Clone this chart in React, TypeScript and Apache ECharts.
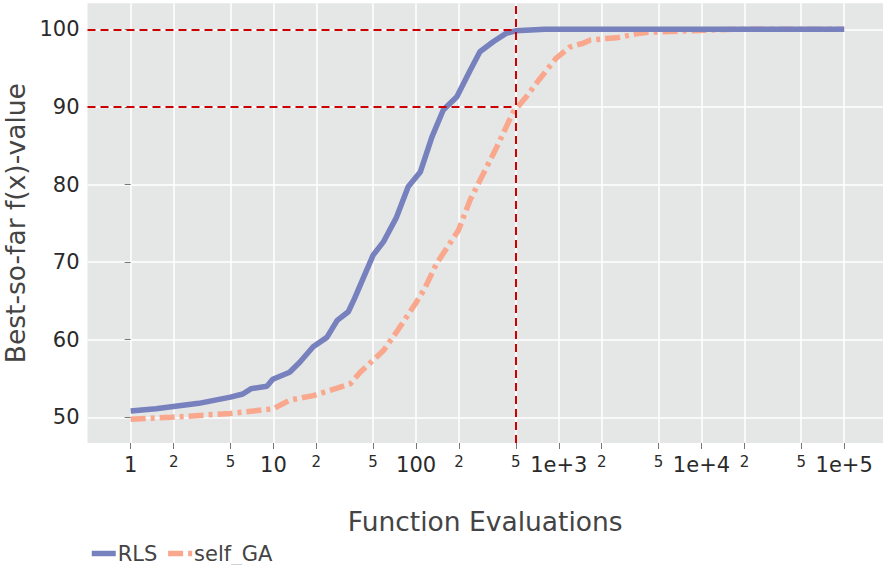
import React, { useEffect, useRef } from "react";
import * as echarts from "echarts";

const rlsEvals = [1, 1.5, 3, 5, 6.1, 7, 9, 9.9, 13, 15.3, 19, 23.7, 28, 33.5, 37, 50, 59, 73, 88, 107, 129, 155, 193, 239, 280, 347, 430, 500, 800, 100000];
const rlsValues = [50.8, 51.1, 51.8, 52.6, 53.0, 53.7, 54.0, 54.9, 55.8, 57.1, 59.1, 60.3, 62.5, 63.6, 65.3, 70.9, 72.6, 75.8, 79.7, 81.6, 86.1, 89.6, 91.3, 94.7, 97.1, 98.4, 99.5, 99.8, 100, 100];

const gaEvals = [1, 1.9, 5, 10, 13, 19, 34.5, 40.6, 59, 73, 101, 115, 139, 198, 239, 296, 367, 478, 592, 735, 960, 1190, 1480, 1650, 2150, 2540, 3700, 4100, 7800, 16600, 100000];
const gaValues = [49.75, 50.0, 50.5, 51.1, 52.2, 52.8, 54.3, 55.8, 58.6, 61.0, 64.9, 66.6, 69.8, 74.1, 78.0, 81.4, 84.8, 89.3, 91.3, 93.6, 96.3, 97.7, 98.2, 98.6, 98.8, 98.9, 99.5, 99.6, 99.8, 100, 100];

const xTickValues = [1, 2, 5, 10, 20, 50, 100, 200, 500, 1000, 2000, 5000, 10000, 20000, 50000, 100000];
const xTickLabels = ["1", "2", "5", "10", "2", "5", "100", "2", "5", "1e+3", "2", "5", "1e+4", "2", "5", "1e+5"];
const yTickValues = [50, 60, 70, 80, 90, 100];

const targetEvals = 500;
const targetValues = [100, 90];

const FONT = "DejaVu Sans";

export default function App() {
  const ref = useRef<HTMLDivElement>(null);
  useEffect(() => {
    if (!ref.current) return;
    const chart = echarts.init(ref.current, null, { renderer: "svg" });
    const lg = (v: number) => Math.log10(v);
    const xMin = -0.3027;
    const xMax = 5.272;
    const xTicksLog = xTickValues.map(lg);
    const labelFor = (v: number) => {
      for (let i = 0; i < xTicksLog.length; i++) {
        if (Math.abs(xTicksLog[i] - v) < 1e-6) {
          const major = Math.abs(Math.round(xTicksLog[i]) - xTicksLog[i]) < 1e-6;
          return major ? `{a|${xTickLabels[i]}}` : `{b|${xTickLabels[i]}}`;
        }
      }
      return "";
    };
    const redStyle = { color: "#cc0000", width: 2, type: [8, 5] as any };
    chart.setOption({
      animation: false,
      backgroundColor: "#ffffff",
      textStyle: { fontFamily: FONT },
      grid: {
        left: 87.5,
        top: 3.3,
        right: 0,
        bottom: 122,
        backgroundColor: "#e5e6e6",
        show: true,
        borderWidth: 0,
        containLabel: false,
        outerBoundsMode: "none",
      },
      legend: {
        left: 84,
        top: 538,
        itemWidth: 24,
        itemHeight: 14,
        itemGap: 8,
        itemStyle: { opacity: 0 },
        lineStyle: { width: 5.5 },
        textStyle: { fontSize: 21, color: "#444", fontFamily: FONT, padding: [0, 0, 0, -3] },
        data: ["RLS", "self_GA"],
      },
      xAxis: {
        type: "value",
        min: xMin,
        max: xMax,
        name: "Function Evaluations",
        nameLocation: "middle",
        nameGap: 64.5,
        nameTextStyle: { fontSize: 26.5, color: "#444", fontFamily: FONT },
        axisLine: { show: false },
        axisTick: { show: true, customValues: xTicksLog, length: 6, lineStyle: { color: "#777", width: 1 } },
        axisLabel: {
          customValues: xTicksLog,
          margin: 11,
          verticalAlign: "top",
          formatter: (v: number) => labelFor(v),
          rich: {
            a: { fontSize: 21, color: "#2a2a2a", fontFamily: FONT, verticalAlign: "top" },
            b: { fontSize: 15, color: "#2a2a2a", fontFamily: FONT, verticalAlign: "top" },
          },
        },
        splitLine: { show: true, lineStyle: { color: "#ffffff", width: 1.5 } },
      },
      yAxis: {
        type: "value",
        min: 46.69,
        max: 103.35,
        name: "Best-so-far f(x)-value",
        nameLocation: "middle",
        nameGap: 54,
        nameTextStyle: { fontSize: 26.5, color: "#444", fontFamily: FONT },
        axisLine: { show: false },
        axisTick: { show: true, customValues: yTickValues, length: 6, lineStyle: { color: "#777", width: 1 } },
        axisLabel: { customValues: yTickValues, margin: 8, fontSize: 21, color: "#2a2a2a", fontFamily: FONT },
        splitLine: { show: true, lineStyle: { color: "#ffffff", width: 1.5 } },
      },
      series: [
        {
          name: "RLS",
          type: "line",
          showSymbol: false,
          symbol: "none",
          color: "#7681bd",
          lineStyle: { width: 5.5, color: "#7681bd" },
          data: rlsEvals.map((e, i) => [lg(e), rlsValues[i]]),
          z: 3,
        },
        {
          name: "self_GA",
          type: "line",
          showSymbol: false,
          symbol: "none",
          color: "#f9a88e",
          lineStyle: { width: 5.5, color: "#f9a88e", type: [15, 5, 4, 5] },
          data: gaEvals.map((e, i) => [lg(e), gaValues[i]]),
          z: 2,
        },
        {
          name: "targets",
          type: "line",
          data: [],
          z: 5,
          markLine: {
            silent: true,
            symbol: "none",
            label: { show: false },
            lineStyle: redStyle,
            data: [
              ...targetValues.map((t) => [
                { coord: [xMin, t], lineStyle: redStyle },
                { coord: [lg(targetEvals), t] },
              ]),
              { xAxis: lg(targetEvals), lineStyle: redStyle },
            ],
          },
        },
      ],
    });
    return () => chart.dispose();
  }, []);
  return <div ref={ref} style={{ position: "absolute", left: 0, top: 0, width: 883, height: 565 }} />;
}
